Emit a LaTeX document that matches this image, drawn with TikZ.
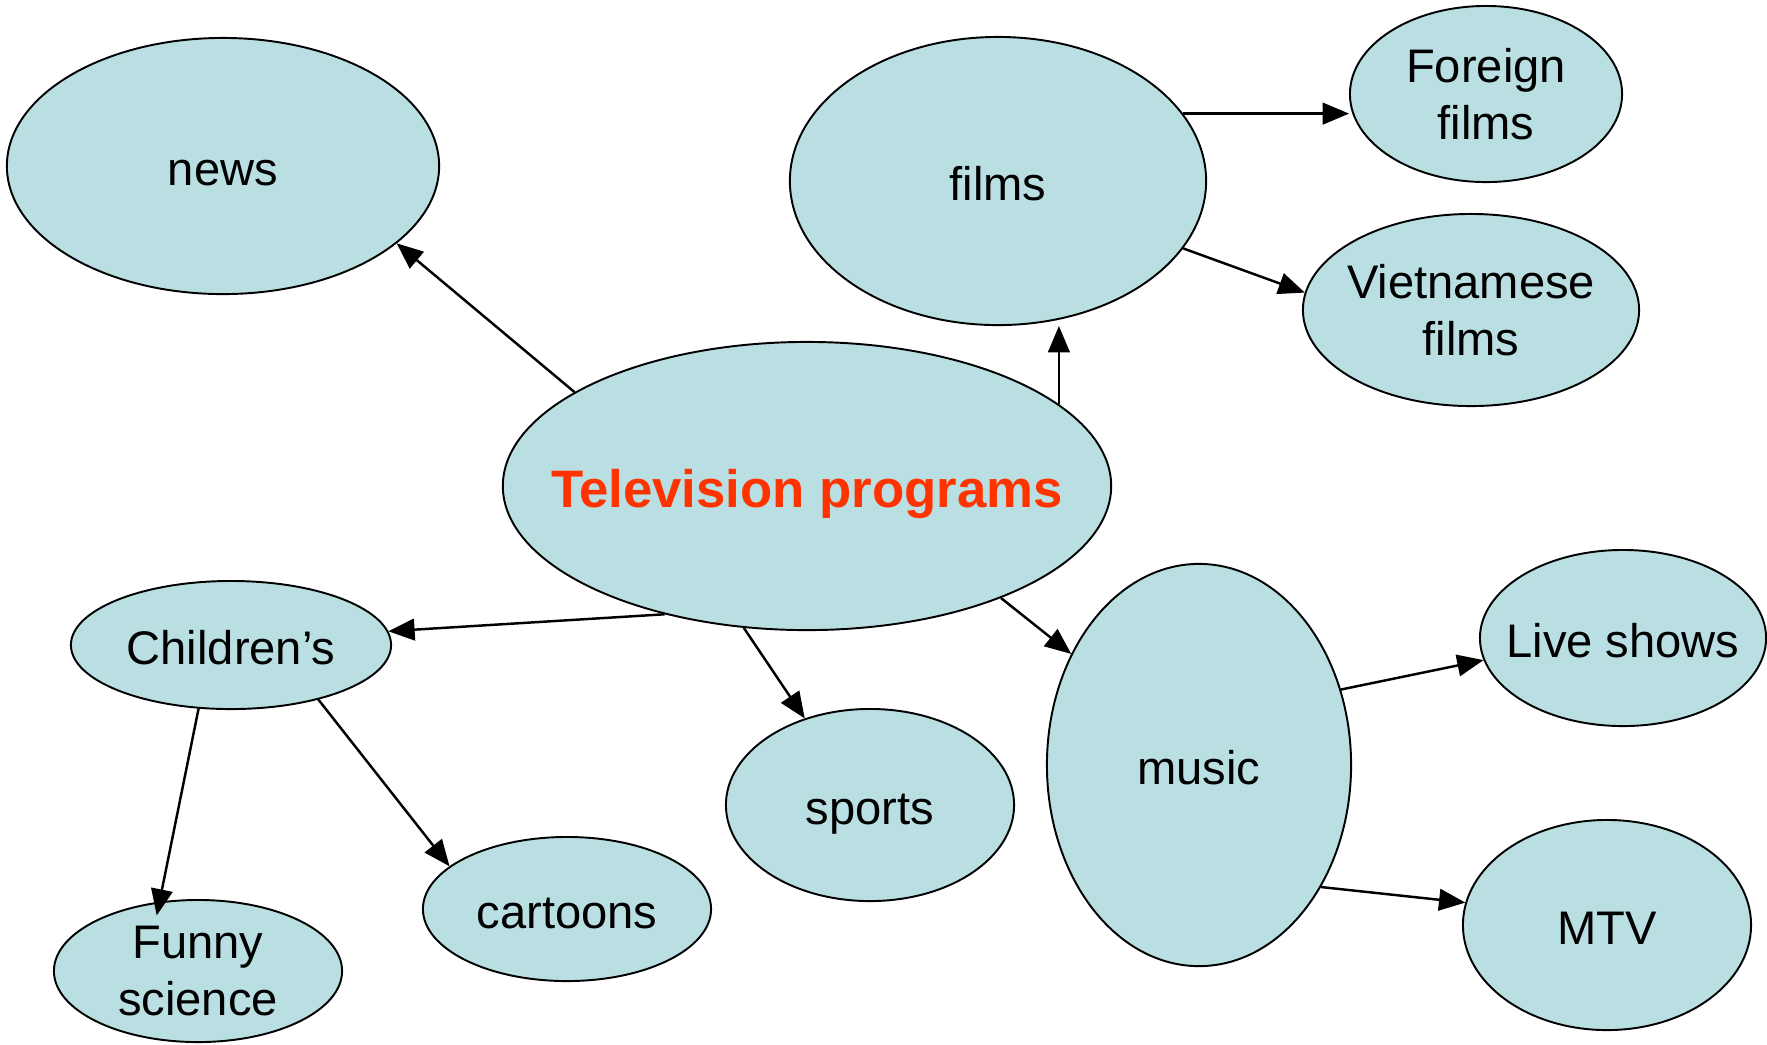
\documentclass[tikz,border=0pt]{standalone}
\usepackage{fontspec}
\setmainfont{Liberation Sans}
\usetikzlibrary{arrows,shapes.geometric}
\definecolor{bubble}{HTML}{B9DFE3}
\definecolor{titlered}{HTML}{FF3300}
\begin{document}
\begin{tikzpicture}[x=0.01cm,y=-0.01cm]
\tikzstyle{every node}=[ellipse, draw, fill=bubble, line width=0.55pt, inner sep=0pt, align=center, font=\fontsize{13.4}{16.4}\selectfont]
\tikzstyle{oneline}=[text height=13.5pt, text depth=2.5pt]
\tikzstyle{link}=[line width=0.7pt, -triangle 45]
\useasboundingbox (0,0) rectangle (1767,1044);
\draw (807,486) node (tv) [minimum width=6.08cm, minimum height=2.88cm, inner xsep=-0.45cm, text height=15pt, text depth=3pt, text=titlered, font=\fontsize{15}{18}\selectfont\bfseries] {Television programs};
\draw (223,166) node (news) [oneline, minimum width=4.32cm, minimum height=2.56cm] {news};
\draw (998,181) node (films) [oneline, minimum width=4.16cm, minimum height=2.88cm] {films};
\draw (1486,94) node (foreign) [minimum width=2.72cm, minimum height=1.76cm] {Foreign\\films};
\draw (1471,310) node (viet) [minimum width=3.36cm, minimum height=1.92cm, inner xsep=-0.07cm] {Vietnamese\\films};
\draw (231,645) node (child) [oneline, minimum width=3.20cm, minimum height=1.28cm] {Children’s};
\draw (870,805) node (sports) [oneline, minimum width=2.88cm, minimum height=1.92cm] {sports};
\draw (1199,765) node (music) [oneline, minimum width=3.04cm, minimum height=4.02cm] {music};
\draw (1623,638) node (live) [oneline, minimum width=2.86cm, minimum height=1.76cm, inner xsep=-0.17cm] {Live shows};
\draw (1607,925) node (mtv) [oneline, minimum width=2.88cm, minimum height=2.10cm] {MTV};
\draw (567,909) node (cartoons) [oneline, minimum width=2.88cm, minimum height=1.44cm] {cartoons};
\draw (198,971) node (funny) [minimum width=2.88cm, minimum height=1.42cm] {Funny\\science};
\draw[link] (tv.158) -- (news.-24);
\draw[link] (tv.18) -- (tv.18 |- films.south);
\draw[link] (films.20) -- (films.20 -| foreign.west);
\draw[link] (films.-20) -- (viet.174);
\draw[link] (tv.-138) -- (child.5);
\draw[link] (tv.-114) -- (sports.127);
\draw[link] (tv.-30) -- (music.139);
\draw[link] (music.28) -- (live.-171);
\draw[link] (music.-45) -- (mtv.171);
\draw[link, shorten >=-4pt] (child.-117) -- (funny.119);
\draw[link] (child.-32) -- (cartoons.160);
\end{tikzpicture}
\end{document}
